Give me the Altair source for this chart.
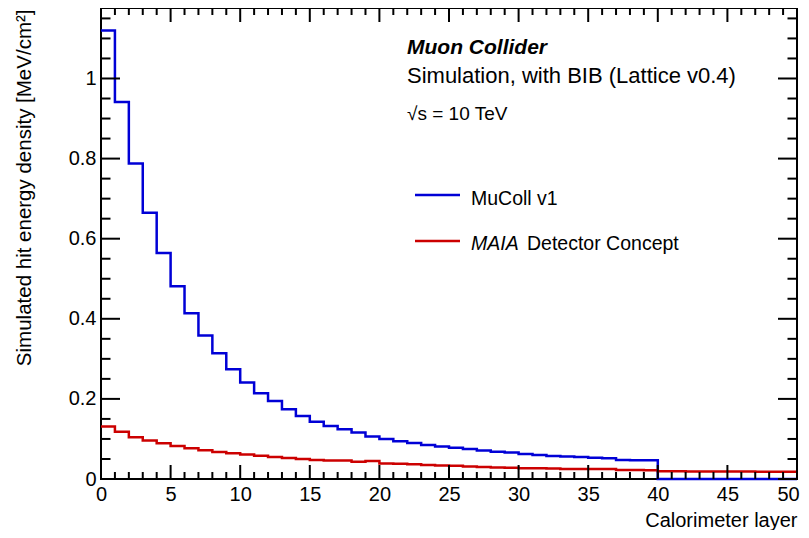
import altair as alt
import pandas as pd

# ---- data ----
layers = list(range(51))  # bin edges 0..50
mucoll = [1.12, 0.941, 0.7875, 0.665, 0.564, 0.481, 0.414, 0.358, 0.314, 0.274,
          0.241, 0.214, 0.195, 0.174, 0.1575, 0.143, 0.1325, 0.124, 0.116, 0.106,
          0.100, 0.094, 0.090, 0.085, 0.081, 0.078, 0.075, 0.071, 0.068, 0.066,
          0.0625, 0.060, 0.0575, 0.056, 0.055, 0.053, 0.052, 0.0475, 0.047, 0.047,
          0, 0, 0, 0, 0, 0, 0, 0, 0, 0]
maia = [0.131, 0.118, 0.104, 0.096, 0.089, 0.0825, 0.0767, 0.0717, 0.0675, 0.064,
        0.061, 0.058, 0.055, 0.0525, 0.050, 0.0475, 0.046, 0.046, 0.043, 0.045,
        0.039, 0.038, 0.037, 0.035, 0.034, 0.033, 0.031, 0.030, 0.029, 0.028,
        0.027, 0.0267, 0.026, 0.025, 0.025, 0.025, 0.025, 0.0225, 0.0225, 0.022,
        0.0195, 0.0195, 0.019, 0.019, 0.019, 0.0185, 0.0185, 0.018, 0.018, 0.018]
series_names = ["MuColl v1", "MAIA"]
series_colors = ["#0000d6", "#cc0000"]
x_ticks_major = list(range(0, 51, 5))
x_ticks_minor = [v for v in range(0, 51) if v % 5 != 0]
y_ticks_major = [0, 0.2, 0.4, 0.6, 0.8, 1.0]
y_ticks_minor = [0.05, 0.1, 0.15, 0.25, 0.3, 0.35, 0.45, 0.5, 0.55, 0.65, 0.7, 0.75,
                 0.85, 0.9, 0.95, 1.05, 1.1, 1.15]
Y_MAX = 1.176

rows = []
for name, vals in zip(series_names, [mucoll, maia]):
    ext = vals + [vals[-1]]
    for x, v in zip(layers, ext):
        rows.append({"layer": x, "value": v, "series": name})
df = pd.DataFrame(rows)

W, H = 696, 471
FONT = "Liberation Sans"

xscale = alt.Scale(domain=[0, 50], nice=False, zero=False)
yscale = alt.Scale(domain=[0, Y_MAX], nice=False)

xaxis = alt.Axis(values=x_ticks_major, title="Calorimeter layer",
                 titleAnchor="end", titleAlign="right", titleX=W, titleY=47,
                 titleBaseline="alphabetic", labelPadding=5,
                 labelOffset={"condition": {"test": "datum.value === 50", "value": -9}, "value": 0},
                 labelFlush=False, labelOverlap=False)
yaxis = alt.Axis(values=y_ticks_major, format="~g",
                 title="Simulated hit energy density [MeV/cm²]",
                 titleAngle=270, titleAnchor="end", titleAlign="right",
                 titleBaseline="alphabetic", titleX=-71, titleY=1, titleFontSize=20.5,
                 labelPadding=5, labelOverlap=False)

lines = alt.Chart(df).mark_line(interpolate="step-after", strokeWidth=2.5).encode(
    x=alt.X("layer:Q", scale=xscale, axis=xaxis),
    y=alt.Y("value:Q", scale=yscale, axis=yaxis),
    color=alt.Color("series:N", scale=alt.Scale(domain=series_names, range=series_colors),
                    legend=None),
    detail="series:N",
)

def xticks(vals, length):
    d = pd.DataFrame({"layer": vals})
    enc_x = alt.X("layer:Q", scale=xscale, axis=xaxis)
    bottom = alt.Chart(d).mark_rule(color="black", strokeWidth=2).encode(
        x=enc_x, y=alt.value(H), y2=alt.value(H - length))
    top = alt.Chart(d).mark_rule(color="black", strokeWidth=2).encode(
        x=enc_x, y=alt.value(0), y2=alt.value(length))
    return [bottom, top]

def yticks(vals, length):
    d = pd.DataFrame({"value": vals})
    enc_y = alt.Y("value:Q", scale=yscale, axis=yaxis)
    left = alt.Chart(d).mark_rule(color="black", strokeWidth=2).encode(
        y=enc_y, x=alt.value(0), x2=alt.value(length))
    right = alt.Chart(d).mark_rule(color="black", strokeWidth=2).encode(
        y=enc_y, x=alt.value(W), x2=alt.value(W - length))
    return [left, right]

tick_layers = (xticks(x_ticks_major, 14) + xticks(x_ticks_minor, 7)
               + yticks(y_ticks_major, 19) + yticks(y_ticks_minor, 9.5))

one = pd.DataFrame({"a": [0]})

def label(text, x, y, size, style="normal", weight="normal"):
    return alt.Chart(one).mark_text(
        text=text, align="left", baseline="alphabetic", font=FONT, fontSize=size,
        fontStyle=style, fontWeight=weight, color="black"
    ).encode(x=alt.value(x), y=alt.value(y))

texts = [
    label("Muon Collider", 306, 46, 21, style="italic", weight="bold"),
    label("Simulation, with BIB (Lattice v0.4)", 306, 75, 22),
    label("√s = 10 TeV", 306, 112, 19),
    label("MuColl v1", 370, 197, 19.5),
    label("MAIA", 370, 242, 19.5, style="italic"),
    label("Detector Concept", 426, 242, 19.5),
]

legend_lines = [
    alt.Chart(one).mark_rule(color=series_colors[0], strokeWidth=2.5).encode(
        x=alt.value(314), x2=alt.value(359), y=alt.value(187)),
    alt.Chart(one).mark_rule(color=series_colors[1], strokeWidth=2.5).encode(
        x=alt.value(314), x2=alt.value(359), y=alt.value(233)),
]

chart = alt.layer(lines, *tick_layers, *legend_lines, *texts).properties(
    width=W, height=H,
    background="white",
    autosize=alt.AutoSizeParams(type="none"),
    padding={"left": 93, "top": 0, "right": 4, "bottom": 51},
).configure_view(stroke="black", strokeWidth=2).configure_axis(
    domain=False, ticks=False, grid=False,
    labelFont=FONT, labelFontSize=20, labelColor="black",
    titleFont=FONT, titleFontSize=20, titleColor="black", titleFontWeight="normal",
)

chart.save("out.html", embed_options={"renderer": "svg", "actions": False})
